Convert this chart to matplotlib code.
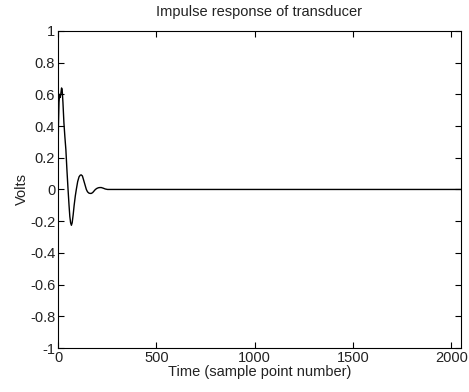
import matplotlib
matplotlib.use('Agg')
import matplotlib.pyplot as plt
from matplotlib.ticker import FuncFormatter

# Amostras (indice da amostra, tensao)
amostras = [0, 2, 5, 8, 11, 14, 18, 21, 25, 30, 35, 40, 45, 51, 56, 60, 64, 68,
            72, 77, 82, 88, 93, 100, 107, 113, 118, 124, 130, 137, 144, 150, 157,
            163, 169, 176, 183, 190, 198, 206, 213, 220, 230, 240, 252, 2048]
volts = [0.15, 0.40, 0.55, 0.60, 0.58, 0.60, 0.64, 0.63, 0.55, 0.42, 0.33, 0.25,
         0.13, 0.0, -0.10, -0.17, -0.21, -0.226, -0.21, -0.16, -0.10, -0.04, 0.0,
         0.05, 0.08, 0.09, 0.092, 0.085, 0.06, 0.03, 0.0, -0.015, -0.023, -0.025,
         -0.025, -0.02, -0.01, 0.0, 0.007, 0.011, 0.012, 0.012, 0.008, 0.003, 0.0, 0.0]

xticks = [0, 500, 1000, 1500, 2000]
yticks = [-1, -0.8, -0.6, -0.4, -0.2, 0, 0.2, 0.4, 0.6, 0.8, 1]

plt.rcParams['font.family'] = ['Liberation Sans', 'DejaVu Sans']
plt.rcParams['font.size'] = 10.5

fig = plt.figure(figsize=(4.69, 3.92), dpi=100)
ax = fig.add_axes([0.1237, 0.1122, 0.859, 0.809])
ax.plot(amostras, volts, color='black', linewidth=1.0)

ax.set_xlim(0, 2048)
ax.set_ylim(-1, 1)
ax.set_xticks(xticks)
ax.set_yticks(yticks)
ax.yaxis.set_major_formatter(FuncFormatter(lambda v, p: '%g' % round(v, 1)))
ax.tick_params(direction='in', length=4, top=True, right=True, width=0.8,
               pad=2, colors='black', labelcolor='#222222')
for s in ax.spines.values():
    s.set_linewidth(0.8)

ax.set_title('Impulse response of transducer', fontsize=10.5, pad=11, color='#222222')
ax.set_xlabel('Time (sample point number)', labelpad=0, color='#222222')
ax.set_ylabel('Volts', labelpad=1, color='#222222')

fig.savefig('out.png', dpi=100)
